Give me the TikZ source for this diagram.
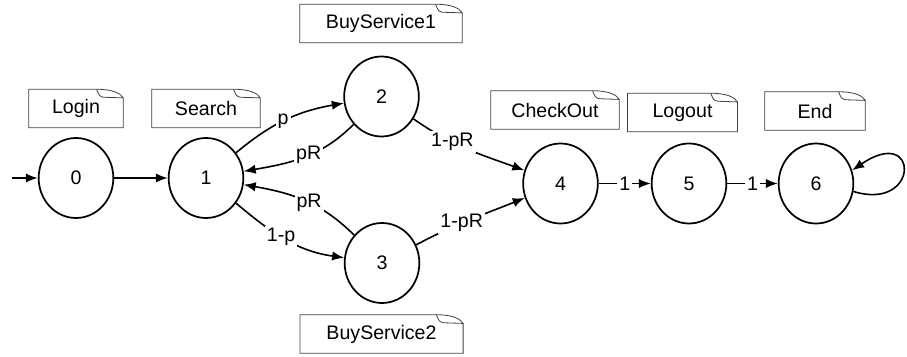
\documentclass[tikz,border=0pt]{standalone}
\usepackage{fontspec}
\setmainfont{Liberation Sans}
\usetikzlibrary{shapes.geometric,arrows.meta}

\tikzset{
	statenode/.style={ellipse,draw,line width=1.3pt,minimum width=56pt,minimum height=60pt,inner sep=0pt},
	notebox/.style={minimum height=28.5pt,inner sep=0pt},
	noteline/.style={draw=black!75,line width=0.6pt},
	trans/.style={line width=1.2pt,-{Latex[length=9pt,width=7pt]}},
	prob/.style={fill=white,inner sep=1.5pt},
}

\begin{document}
\begin{tikzpicture}[x=0.75pt,y=0.75pt,font=\fontsize{14.7}{17}\selectfont]
	\useasboundingbox (0,0) rectangle (907,-357);
	%STATES
	\node[statenode] (s0) at (76,-178) {0};
	\node[statenode] (s1) at (206,-178) {1};
	\node[statenode] (s2) at (381.5,-96.5) {2};
	\node[statenode] (s3) at (382,-263) {3};
	\node[statenode] (s4) at (560.5,-183.5) {4};
	\node[statenode] (s5) at (689,-183.5) {5};
	\node[statenode] (s6) at (816,-183.5) {6};
	%NOTES
	\node[notebox,minimum width=70.5pt] (login) at (76,-108.5) {Login};
	\node[notebox,minimum width=81pt] (search) at (206,-108.5) {Search};
	\node[notebox,minimum width=121.5pt] (buy1) at (381,-23.5) {BuyService1};
	\node[notebox,minimum width=122pt] (buy2) at (381.5,-334) {BuyService2};
	\node[notebox,minimum width=96pt] (checkout) at (555,-110) {CheckOut};
	\node[notebox,minimum width=82pt] (logout) at (682.5,-112.5) {Logout};
	\node[notebox,minimum width=75pt] (theend) at (815,-111) {End};
	\foreach \t in {login,search,buy1,buy2,checkout,logout,theend}{
		\draw[noteline] (\t.south west) |- ([xshift=-20pt]\t.north east)
			.. controls ([xshift=-8pt]\t.north east) and ([xshift=-2pt,yshift=-3pt]\t.north east) .. ([yshift=-6.5pt]\t.north east)
			-- (\t.south east) -- cycle;
		\draw[noteline] ([xshift=-20pt]\t.north east) .. controls ([xshift=-18pt,yshift=-5pt]\t.north east) .. ([xshift=-15pt,yshift=-6pt]\t.north east) -- ([yshift=-6.5pt]\t.north east);
	}
	%TRANSITIONS
	\coordinate (start) at (12,-178);
	\draw[trans] (start) -- (s0);
	\draw[trans] (s0) -- (s1);
	\draw[trans] (s1) to[out=40,in=190] node[prob,pos=0.47] {p} (s2);
	\draw[trans] (s2) to[out=225,in=10] node[prob,pos=0.45] {pR} (s1);
	\draw[trans] (s3) to[out=135,in=-10] node[prob,pos=0.45] {pR} (s1);
	\draw[trans] (s1) to[out=-40,in=172] node[prob,pos=0.45] {1-p} (s3);
	\draw[trans] (s2) to[out=-35,in=160] node[prob,pos=0.36] {1-pR} (s4);
	\draw[trans] (s3) to[out=28,in=202] node[prob,pos=0.42] {1-pR} (s4);
	\draw[trans] (s4) -- node[prob] {1} (s5);
	\draw[trans] (s5) -- node[prob] {1} (s6);
	\draw[trans] (s6.-12) .. controls (920,-212) and (920,-124) .. (s6.20);
\end{tikzpicture}
\end{document}
